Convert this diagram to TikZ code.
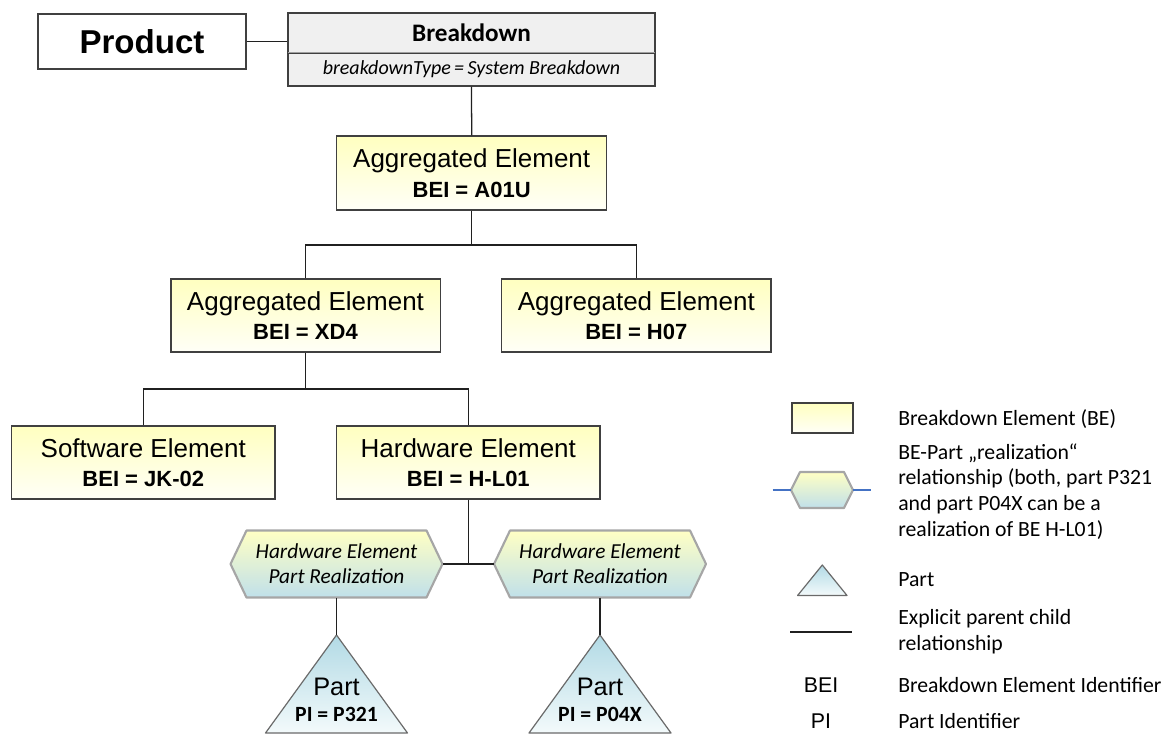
\documentclass[tikz,border=0pt]{standalone}
\usepackage{fontspec}
\setmainfont{Liberation Sans}
\newfontfamily\calib{Carlito}

\definecolor{edge}{HTML}{404040}
\definecolor{ink}{HTML}{202020}
\definecolor{beTop}{HTML}{FFFFC0}
\definecolor{beBot}{HTML}{FFFFF7}
\definecolor{hdrFill}{HTML}{F0F0F0}
\definecolor{hdrRule}{HTML}{A0A0A0}
\definecolor{hexEdge}{HTML}{A6A6A6}
\definecolor{hexTop}{HTML}{FFFFC4}
\definecolor{hexMid}{HTML}{FBFBEE}
\definecolor{hexBot}{HTML}{C0E0EA}
\definecolor{triTop}{HTML}{B2DAE5}
\definecolor{triBot}{HTML}{F3FAFB}
\definecolor{triEdge}{HTML}{6A6A6A}
\definecolor{legBlue}{HTML}{4472C4}

\tikzset{
  link/.style={draw=ink, line width=0.95pt},
  bebox/.style={draw=edge, line width=1pt, top color=beTop, bottom color=beBot,
    align=center, inner sep=0pt,
    font=\fontsize{19.5}{22.2}\selectfont},
  prodbox/.style={draw=edge, line width=1pt, fill=white, inner sep=0pt,
    font=\fontsize{24.8}{28}\selectfont\bfseries},
  hdrbox/.style={draw=edge, line width=1pt, fill=hdrFill, inner sep=0pt},
  hexfill/.style={draw=hexEdge, line width=1.6pt, line join=round,
    top color=hexTop, middle color=hexMid, bottom color=hexBot},
  hexlabel/.style={inner sep=0pt, align=center,
    font=\calib\itshape\fontsize{16}{18.75}\selectfont},
  partshape/.style={draw=triEdge, line width=0.9pt, line join=round,
    top color=triTop, bottom color=triBot},
  parttxt/.style={inner sep=0pt, font=\fontsize{19}{21}\selectfont},
  partid/.style={inner sep=0pt, font=\calib\bfseries\fontsize{16.3}{19}\selectfont},
  legtext/.style={inner sep=0pt, anchor=west, align=left,
    font=\calib\fontsize{16.3}{19.3}\selectfont},
  legsym/.style={inner sep=0pt, font=\fontsize{16}{19}\selectfont},
}

\newcommand{\bei}[1]{{\fontsize{16.5}{22.2}\selectfont\bfseries BEI = #1}}

\begin{document}
\begin{tikzpicture}[x=0.75pt, y=-0.75pt]
  \useasboundingbox (0,0) rectangle (1170,738);

  % ---- top: product and its breakdown ----
  \node[prodbox, minimum width=156pt, minimum height=41.25pt] (prod) at (142,41.5) {Product};
  \node[hdrbox, minimum width=275.25pt, minimum height=30pt,
        font=\calib\bfseries\fontsize{18.9}{22}\selectfont] (bdh) at (471.5,33) {Breakdown};
  \node[hdrbox, minimum width=275.25pt, minimum height=24.75pt,
        font=\calib\itshape\fontsize{15}{17}\selectfont] (bdl) at (471.5,69.5)
        {breakdownType\,=\,System Breakdown};
  \draw[draw=hdrRule, line width=1pt] (bdl.north west) -- (bdl.north east);
  \draw[draw=edge, line width=1pt] (bdh.north west) rectangle (bdl.south east);
  \draw[link] (prod.east) -- (prod.east -| bdh.west);

  % ---- breakdown elements ----
  \node[bebox, minimum width=202.5pt, minimum height=55.5pt] (a01u) at (471.7,173)
        {Aggregated Element\\\bei{A01U}};
  \node[bebox, minimum width=202pt, minimum height=54.75pt] (xd4) at (305.5,315.5)
        {Aggregated Element\\\bei{XD4}};
  \node[bebox, minimum width=202pt, minimum height=54.75pt] (h07) at (636.3,315.5)
        {Aggregated Element\\\bei{H07}};
  \node[bebox, minimum width=197.5pt, minimum height=54.75pt] (sw) at (143.3,462.5)
        {Software Element\\\bei{JK-02}};
  \node[bebox, minimum width=197.5pt, minimum height=54.75pt] (hw) at (468.3,462.5)
        {Hardware Element\\\bei{H-L01}};

  \coordinate (bus1) at (471.7,245);
  \coordinate (bus2) at (305.5,389);
  \coordinate (hub)  at (468.3,564);

  \draw[link] (bdl.south) -- (a01u.north);
  \draw[link] (a01u.south) -- (bus1);
  \draw[link] (xd4.north) |- (bus1) -| (h07.north);
  \draw[link] (xd4.south) -- (bus2);
  \draw[link] (sw.north) |- (bus2) -| (hw.north);
  \draw[link] (hw.south) -- (hub);

  % ---- realization hexagons ----
  \path[hexfill] (230.5,564) -- (246.5,530.5) -- (426.5,530.5) -- (442.5,564)
                 -- (426.5,597.5) -- (246.5,597.5) -- cycle;
  \node[hexlabel, minimum width=159pt, minimum height=50.25pt] (hexA) at (336.5,564)
        {Hardware Element\\Part Realization};
  \path[hexfill] (494,564) -- (510,530.5) -- (690,530.5) -- (706,564)
                 -- (690,597.5) -- (510,597.5) -- cycle;
  \node[hexlabel, minimum width=159pt, minimum height=50.25pt] (hexB) at (600,564)
        {Hardware Element\\Part Realization};
  \draw[link] (hexA.east) -- (hexB.west);

  % ---- parts ----
  \path[partshape] (336.5,635) coordinate (tA) -- (407.5,733) -- (265.5,733) -- cycle;
  \node[parttxt, anchor=base] (tAname) at (336.5,695) {Part};
  \node[partid, anchor=base] (tAid) at (336.5,721.5) {PI = P321};
  \path[partshape] (600,635) coordinate (tB) -- (671,733) -- (529,733) -- cycle;
  \node[parttxt, anchor=base] (tBname) at (600,695) {Part};
  \node[partid, anchor=base] (tBid) at (600,721.5) {PI = P04X};
  \draw[link] (hexA.south) -- (tA);
  \draw[link] (hexB.south) -- (tB);

  % ---- legend ----
  \node[bebox, minimum width=45.75pt, minimum height=22.5pt] (lgbe) at (822.5,418) {};
  \node[legtext] (lgbetxt) at (898,419) {Breakdown Element (BE)};

  \path[hexfill] (791,490) -- (800,472) -- (844,472) -- (853,490)
                 -- (844,508) -- (800,508) -- cycle;
  \node[inner sep=0pt, minimum width=46.5pt, minimum height=27pt] (lghex) at (822,490) {};
  \coordinate (lgL) at (772.5,490);
  \coordinate (lgR) at (870.5,490);
  \draw[draw=legBlue, line width=0.8pt] (lgL) -- (lghex.west);
  \draw[draw=legBlue, line width=0.8pt] (lghex.east) -- (lgR);
  \node[legtext] (lghextxt) at (898,491.5)
        {BE-Part „realization“\\relationship (both, part P321\\and part P04X can be a\\realization of BE H-L01)};

  \path[partshape] (822.3,565) coordinate (lgtri) -- (847,595.5) -- (797.6,595.5) -- cycle;
  \node[legtext] (lgparttxt) at (898,580) {Part};

  \coordinate (lgl1) at (790,632);
  \coordinate (lgl2) at (852,632);
  \draw[link] (lgl1) -- (lgl2);
  \node[legtext] (lglinetxt) at (898,632) {Explicit parent child\\relationship};

  \node[legsym] (lgbei) at (821,685) {BEI};
  \node[legtext] (lgbeitxt) at (898,685) {Breakdown Element Identifier};
  \node[legsym] (lgpi) at (821,721) {PI};
  \node[legtext] (lgpitxt) at (898,721) {Part Identifier};
\end{tikzpicture}
\end{document}
